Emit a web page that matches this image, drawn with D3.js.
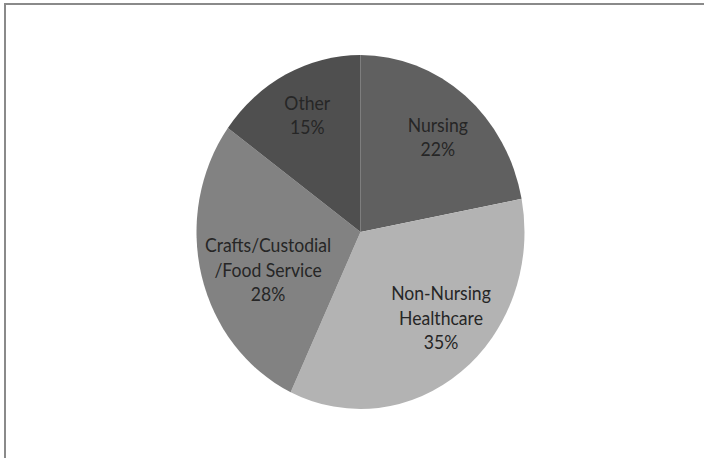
<!DOCTYPE html>
<html>
<head>
<meta charset="utf-8">
<script src="https://cdn.jsdelivr.net/npm/d3@7/dist/d3.min.js"></script>
<style>
  html, body { margin: 0; padding: 0; background: #ffffff; }
  svg { display: block; }
</style>
</head>
<body>
<svg id="chart" width="704" height="458"></svg>
<script>
// Workforce share by employee group (percent)
const categories = ["Nursing", "Non-Nursing Healthcare", "Crafts/Custodial/Food Service", "Other"];
const labelLines = [["Nursing"], ["Non-Nursing", "Healthcare"], ["Crafts/Custodial", "/Food Service"], ["Other"]];
const values = [22, 35, 28, 15];
const colors = ["#606060", "#b3b3b3", "#828282", "#4f4f4f"];

// label nudges (screen px) relative to the slice centroid
const labelNudge = [[4, 1], [10, -12], [19, 7], [-1, -6]];

const W = 704, H = 458;
const cx = 360.5, cy = 232;
const R = 164;          // horizontal radius
const ky = 177 / 164;   // vertical stretch of the pie
const labelR = 115;
const lineH = 24.5;
const fontSize = 17.6;

const svg = d3.select("#chart");

// chart area frame (open to the right and bottom)
svg.append("path")
  .attr("d", `M5,${H + 2} L5,4 L${W + 2},4`)
  .attr("fill", "none")
  .attr("stroke", "#8a8a8a")
  .attr("stroke-width", 2);

const pie = d3.pie().sort(null).value(d => d)
  .startAngle(0).endAngle(2 * Math.PI);
const arcs = pie(values);

const arc = d3.arc().innerRadius(0).outerRadius(R);
const labelArc = d3.arc().innerRadius(labelR).outerRadius(labelR);

const g = svg.append("g")
  .attr("transform", `translate(${cx},${cy}) scale(1,${ky})`);

g.selectAll("path.slice")
  .data(arcs)
  .join("path")
  .attr("class", "slice")
  .attr("d", arc)
  .attr("fill", (d, i) => colors[i]);

// data labels: category name and percentage
const labels = svg.append("g").selectAll("g.label")
  .data(arcs)
  .join("g")
  .attr("class", "label")
  .attr("transform", (d, i) => {
    const [x, y] = labelArc.centroid(d);
    return `translate(${cx + x + labelNudge[i][0]},${cy + y * ky + labelNudge[i][1]}) scale(1,${ky})`;
  });

labels.each(function(d, i) {
  const lines = labelLines[i].concat([d3.format(".0f")(values[i]) + "%"]);
  const n = lines.length;
  const t = d3.select(this).append("text")
    .attr("text-anchor", "middle")
    .attr("font-family", "Lato, 'Noto Sans', sans-serif")
    .attr("font-size", fontSize)
    .attr("fill", "#262626");
  lines.forEach((s, k) => {
    t.append("tspan")
      .attr("x", 0)
      .attr("y", ((k - (n - 1) / 2) * lineH) / ky)
      .attr("dy", "0.35em")
      .text(s);
  });
});
</script>
</body>
</html>
